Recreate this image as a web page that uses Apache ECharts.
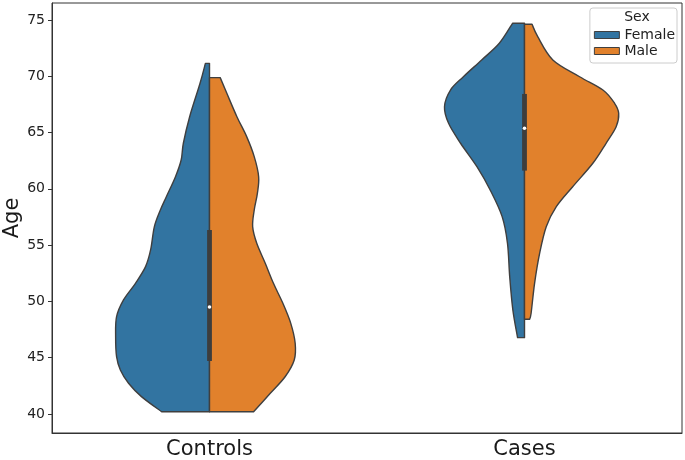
<!DOCTYPE html>
<html><head><meta charset="utf-8">
<script src="https://cdn.jsdelivr.net/npm/echarts@6/dist/echarts.min.js"></script>
<style>html,body{margin:0;padding:0;background:#fff}#c{width:685px;height:460px}</style>
</head><body><div id="c"></div>
<script>
const categories = ['Controls', 'Cases'];
const sexes = ['Female', 'Male'];
const yTicks = [40, 45, 50, 55, 60, 65, 70, 75];

// Kernel density profiles: ages and half-widths (fraction of category band)
const controlsFemaleAge = [71.15, 69.38, 66.41, 64.05, 62.56, 61.08, 59.30, 58.12, 56.64, 54.57, 53.09, 51.61, 50.13, 48.64, 46.87, 45.09, 43.91, 42.73, 41.54, 40.20];
const controlsFemaleDensity = [0.013, 0.030, 0.063, 0.083, 0.090, 0.108, 0.137, 0.156, 0.175, 0.187, 0.203, 0.235, 0.273, 0.295, 0.298, 0.295, 0.283, 0.257, 0.216, 0.152];
const controlsMaleAge = [69.88, 68.49, 66.41, 64.64, 62.86, 61.08, 59.60, 58.12, 56.64, 55.16, 53.39, 51.61, 49.83, 48.05, 46.28, 44.80, 43.31, 41.84, 40.20];
const controlsMaleDensity = [0.034, 0.055, 0.087, 0.118, 0.142, 0.156, 0.152, 0.142, 0.137, 0.150, 0.177, 0.203, 0.233, 0.258, 0.272, 0.269, 0.240, 0.193, 0.140];
const casesFemaleAge = [74.71, 72.93, 71.45, 69.96, 68.78, 67.30, 65.82, 64.05, 61.97, 59.90, 57.53, 55.16, 52.20, 49.24, 46.78];
const casesFemaleDensity = [0.038, 0.080, 0.136, 0.194, 0.235, 0.254, 0.241, 0.203, 0.151, 0.109, 0.071, 0.054, 0.047, 0.037, 0.022];
const casesMaleAge = [74.62, 73.52, 71.45, 69.96, 68.78, 67.60, 66.71, 65.52, 64.05, 62.27, 60.19, 58.42, 56.64, 54.27, 51.61, 48.95, 48.41];
const casesMaleDensity = [0.024, 0.042, 0.090, 0.175, 0.249, 0.286, 0.299, 0.291, 0.259, 0.217, 0.153, 0.101, 0.069, 0.048, 0.032, 0.021, 0.016];

// Box (inner) statistics per category
const boxQ1 = [44.7, 61.62];
const boxMedian = [49.5, 65.38];
const boxQ3 = [56.35, 68.43];

const BLUE = '#3274a1', ORANGE = '#e1812c', EDGE = '#3f3f3f', FONT = 'DejaVu Sans';
const profiles = {
  Female: [[controlsFemaleAge, controlsFemaleDensity], [casesFemaleAge, casesFemaleDensity]],
  Male: [[controlsMaleAge, controlsMaleDensity], [casesMaleAge, casesMaleDensity]]
};

function violinPath(api, cat, ages, dens, side) {
  const band = api.size([1, 0])[0];
  const cx = api.coord([cat, ages[0]])[0];
  const pts = ages.map((a, i) => [cx + side * dens[i] * band, api.coord([cat, a])[1]]);
  const n = pts.length;
  let d = 'M' + cx + ',' + pts[0][1] + ' L' + pts[0][0] + ',' + pts[0][1];
  for (let i = 0; i < n - 1; i++) {
    const p0 = pts[Math.max(i - 1, 0)], p1 = pts[i], p2 = pts[i + 1], p3 = pts[Math.min(i + 2, n - 1)];
    const c1 = [p1[0] + (p2[0] - p0[0]) / 6, p1[1] + (p2[1] - p0[1]) / 6];
    const c2 = [p2[0] - (p3[0] - p1[0]) / 6, p2[1] - (p3[1] - p1[1]) / 6];
    d += ' C' + c1[0] + ',' + c1[1] + ' ' + c2[0] + ',' + c2[1] + ' ' + p2[0] + ',' + p2[1];
  }
  d += ' L' + cx + ',' + pts[n - 1][1] + ' Z';
  return d;
}

function violinSeries(name, color, side) {
  return {
    type: 'custom', name: name,
    itemStyle: { color: color, borderColor: EDGE, borderWidth: 1 },
    data: categories.map((c, i) => [i, boxMedian[i]]),
    renderItem: function (params, api) {
      const i = api.value(0);
      const pr = profiles[name][i];
      return {
        type: 'path',
        shape: { pathData: violinPath(api, i, pr[0], pr[1], side) },
        style: { fill: color, stroke: EDGE, lineWidth: 1.4, lineJoin: 'round' }
      };
    }
  };
}

const chart = echarts.init(document.getElementById('c'), null, { renderer: 'canvas' });
chart.setOption({
  animation: false,
  backgroundColor: '#fff',
  textStyle: { fontFamily: FONT },
  grid: { left: 52, right: 3, top: 3, bottom: 27, containLabel: false, outerBoundsMode: 'none', show: true, borderColor: '#333', borderWidth: 1, backgroundColor: 'transparent' },
  xAxis: {
    type: 'category', data: categories, boundaryGap: true,
    axisLine: { lineStyle: { color: '#333', width: 1 } },
    axisTick: { alignWithLabel: true, length: 4, lineStyle: { color: '#333' } },
    axisLabel: { fontSize: 21, color: '#1a1a1a', margin: 6, fontFamily: FONT },
    splitLine: { show: false }
  },
  yAxis: {
    type: 'value', min: 38.31, max: 76.51,
    name: 'Age', nameLocation: 'middle', nameGap: 29, nameMoveOverlap: false,
    nameTextStyle: { fontSize: 21, color: '#1a1a1a', fontFamily: FONT },
    axisLine: { show: true, lineStyle: { color: '#333', width: 1 } },
    axisTick: { show: true, length: 4, customValues: yTicks, lineStyle: { color: '#333' } },
    axisLabel: { customValues: yTicks, fontSize: 14, color: '#222', margin: 7, fontFamily: FONT },
    splitLine: { show: false }
  },
  legend: {
    data: [
      { name: 'Female', itemStyle: { color: BLUE, borderColor: EDGE, borderWidth: 1 } },
      { name: 'Male', itemStyle: { color: ORANGE, borderColor: EDGE, borderWidth: 1 } }
    ],
    orient: 'vertical', right: 8, top: 8,
    padding: [20, 2, 5, 4],
    itemWidth: 25, itemHeight: 7, itemGap: 2, itemTextGap: 2,
    icon: 'rect',
    backgroundColor: 'rgba(255,255,255,0.8)', borderColor: '#cccccc', borderWidth: 1, borderRadius: 3,
    textStyle: { fontSize: 14, lineHeight: 14, color: '#222', fontFamily: FONT },
    selectedMode: false
  },
  graphic: [
    { type: 'text', x: 637, y: 10, z: 100, style: { text: 'Sex', fontSize: 14, fill: '#222', textAlign: 'center', fontFamily: FONT } }
  ],
  series: [
    violinSeries('Female', BLUE, -1),
    violinSeries('Male', ORANGE, 1),
    {
      type: 'custom', name: 'box', z: 5, silent: true,
      data: categories.map((c, i) => [i, boxQ1[i], boxMedian[i], boxQ3[i]]),
      encode: { x: 0, y: 2 },
      renderItem: function (params, api) {
        const i = api.value(0);
        const p1 = api.coord([i, api.value(1)]);
        const pm = api.coord([i, api.value(2)]);
        const p3 = api.coord([i, api.value(3)]);
        return {
          type: 'group', children: [
            { type: 'rect', shape: { x: p1[0] - 2.4, y: p3[1], width: 4.8, height: p1[1] - p3[1] }, style: { fill: '#3d3d3d' } },
            { type: 'circle', shape: { cx: pm[0], cy: pm[1], r: 1.8 }, style: { fill: '#ffffff' } }
          ]
        };
      }
    }
  ]
});
</script>
</body></html>
